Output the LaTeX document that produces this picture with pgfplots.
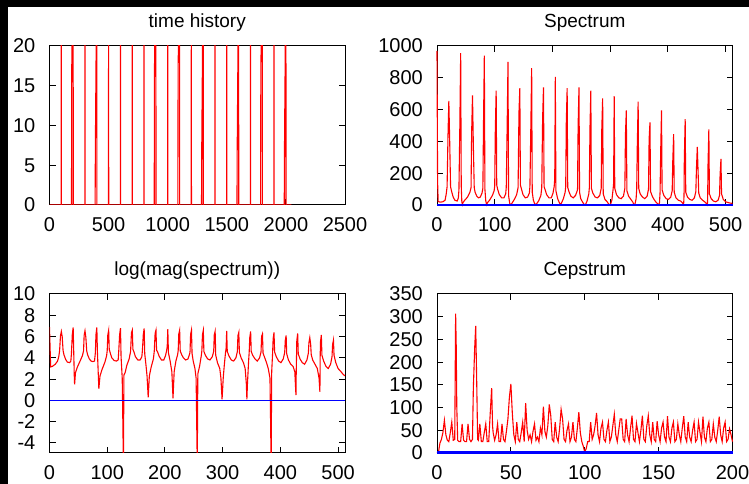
\documentclass[border=0pt]{standalone}
\usepackage{fontspec}
\setmainfont{Liberation Sans}
\usepackage{pgfplots}
\pgfplotsset{compat=1.18}
\pgfplotsset{
  gp/.style={
    scale only axis, width=295.5pt, height=159pt,
    axis line style={black, line width=1pt},
    every tick/.style={black, line width=1pt},
    major tick length=6pt,
    tick align=inside,
    title style={font=\fontsize{19}{22}\selectfont, at={(0.5,1)}, anchor=base, yshift=12pt},
    xticklabel style={font=\fontsize{20}{24}\selectfont, anchor=base, yshift=-27pt},
    yticklabel style={font=\fontsize{20}{24}\selectfont, anchor=east, inner sep=0pt, xshift=-14pt},
  },
  redl/.style={red, line width=1.1pt, mark=none},
}
\begin{document}
\begin{tikzpicture}
\useasboundingbox (0,0) rectangle (749pt,484pt);
\fill[black] (0,0) rectangle (749pt,484pt);
\fill[white] (8pt,0) rectangle (749pt,477pt);

% time history
\begin{axis}[gp, at={(49.5pt,279pt)}, anchor=south west,
  title={time history},
  xmin=0, xmax=2500, ymin=0, ymax=20,
  xtick={0,500,1000,1500,2000,2500}, xticklabels={0,500,1000,1500,2000,2500},
  ytick={0,5,10,15,20}, yticklabels={0,5,10,15,20}]
\addplot[redl] coordinates {
(0,0) (99,0) (100,30) (101,0) (186,0) (188,17) (200,30) (201,0)
(299,0) (300,30) (301,0) (386,0) (388,7) (400,30) (401,0)
(499,0) (500,30) (501,0) (599,0) (600,30) (601,0)
(699,0) (700,30) (701,0) (799,0) (800,30) (801,0)
(886,0) (888,17) (900,30) (901,0) (999,0) (1000,30) (1001,0)
(1086,0) (1088,17) (1100,30) (1101,0) (1199,0) (1200,30) (1201,0)
(1286,0) (1288,7) (1300,30) (1301,0) (1399,0) (1400,30) (1401,0)
(1499,0) (1500,30) (1501,0) (1586,0) (1588,7) (1600,30) (1601,0)
(1699,0) (1700,30) (1701,0) (1786,0) (1788,17) (1800,30) (1801,0)
(1899,0) (1900,30) (1901,0) (1986,0) (1988,7) (2000,30) (2001,0)
(2047,0)
};
\end{axis}

% spectrum
\begin{axis}[gp, at={(437pt,279pt)}, anchor=south west,
  title={Spectrum}, clip=false,
  xmin=0, xmax=512, ymin=0, ymax=1000,
  xtick={0,100,200,300,400,500}, xticklabels={0,100,200,300,400,500},
  ytick={0,200,400,600,800,1000}, yticklabels={0,200,400,600,800,1000}]
\addplot[redl] coordinates {
(0,970) (1,150) (2,22) (5,18) (10,20) (14,30) (16,70) (17.5,115) (19,430) (20.5,655) (22,400) (23.5,115) (25,90) (28,50)
(31,30) (35,25) (37,45) (38,95) (39.5,480) (41,955) (42,120) (43,20) (44,3) (45,15) (48,30) (53,50) (57,80) (59,110)
(60,450) (61.5,690) (63,370) (64.5,110) (66,80) (69,55) (72,45) (75,50) (78,75) (79.5,105) (80.5,490) (82,940) (83,100)
(84.5,25) (86,2) (87.5,15) (91,30) (96,60) (99,90) (100,120) (101,460) (102.5,720) (103.5,125) (105,100) (108,65)
(112,45) (116,45) (119,70) (120,110) (121.5,480) (123,900) (124,60) (126,10) (128,0) (130,12) (134,35) (138,65) (140.5,110)
(142,580) (143.5,735) (144.5,125) (146,105) (149,65) (153,45) (157,50) (160,75) (161,115) (162.5,475) (164,860) (165,80)
(167,30) (169,10) (171,1) (173,10) (176,25) (180,60) (181.5,110) (183,545) (184.5,740) (185.5,115) (187,100) (190,65)
(194,45) (198,45) (201,75) (203,115) (204,165) (205,805) (206,90) (209,40) (212,15) (214,1) (216,15) (219,40) (222,80)
(223,115) (224,515) (225.5,735) (226.5,110) (229,80) (232,55) (236,45) (240,60) (243,90) (243.5,105) (244.5,495) (246,740)
(247,80) (249,40) (252,20) (254,8) (256,0) (258,8) (260,25) (263,70) (264,110) (265,475) (266.5,720) (267.5,105) (270,75)
(274,50) (278,45) (282,60) (284.5,105) (285.5,475) (287,670) (288,70) (291,35) (295,20) (297,8) (299,1) (301,8) (303,30)
(305,95) (306,135) (307,685) (308,105) (311,65) (315,45) (319,40) (323,55) (325.5,105) (326.5,440) (328,595) (329,90) (332,55)
(336,35) (339,20) (341,5) (342,1) (343,5) (345,40) (346,100) (347,365) (348.5,650) (349.5,105) (352,70) (356,50) (360,40)
(364,55) (366.5,100) (367.5,410) (369,520) (370,85) (373,55) (376,35) (379,20) (382,8) (384,0) (385.5,15) (386.5,80) (387.5,325)
(389,595) (390,95) (393,60) (397,40) (401,35) (405,50) (407.5,90) (408.5,275) (410,445) (411,80) (414,45) (418,30) (422,25)
(425,15) (427,3) (427.5,15) (428,60) (428.5,280) (430,540) (431,80) (434,50) (438,35) (442,30) (446,45) (448.5,85) (449.5,225)
(451,365) (452.5,195) (453.5,75) (456,45) (460,30) (464,20) (467,8) (468.5,1) (469,60) (469.5,240) (471,475) (472,70) (475,40)
(479,25) (483,20) (487,30) (489.5,60) (490.5,190) (492,290) (493,70) (496,35) (500,20) (505,15) (508,12) (512,10)
};
\addplot[blue, line width=1.2pt, mark=none] coordinates {(0,0) (512,0)};
\end{axis}

% log magnitude
\begin{axis}[gp, at={(49.5pt,31pt)}, anchor=south west,
  title={log(mag(spectrum))},
  xmin=0, xmax=512, ymin=-4.94, ymax=10,
  xtick={0,100,200,300,400,500}, xticklabels={0,100,200,300,400,500},
  ytick={-4,-2,0,2,4,6,8,10}, yticklabels={-4,-2,0,2,4,6,8,10}]
\addplot[redl] coordinates {
(0,6.88) (1,5.0) (2,3.15) (5,3.2) (10,3.4) (14,3.7) (16,4.1) (17.5,4.65) (19,6.06) (20.5,6.48) (22,5.99) (23.5,4.7) (25,4.3)
(28,3.85) (31,3.6) (35,3.55) (37,3.7) (38,4.4) (39.5,6.17) (41,6.86) (42,4.5) (43,2.2) (43.5,1.5) (45,2.6) (48,3.1) (53,3.7)
(57,4.2) (59,4.65) (60,6.1) (61.5,6.54) (63,5.91) (64.5,4.65) (66,4.3) (69,3.9) (72,3.7) (75,3.65) (78,3.7) (79.5,4.5)
(80.5,6.19) (82,6.85) (83,4.6) (84.5,2.5) (85.5,1.1) (87.5,2.3) (91,2.9) (96,3.6) (99,4.2) (100,4.7) (101,6.13) (102.5,6.58)
(103.5,4.8) (105,4.5) (108,4.0) (112,3.75) (116,3.7) (119,3.8) (120,4.65) (121.5,6.17) (123,6.8) (124,4.1) (126,2.1) (127,-1.7)
(128,-6) (129,2.4) (131,2.6) (134,3.3) (138,3.9) (140.5,4.6) (142,6.36) (143.5,6.6) (144.5,4.8) (146,4.6) (149,4.1) (153,3.8)
(157,3.8) (160,4.1) (161,4.7) (162.5,6.16) (164,6.76) (165,4.4) (167,3.4) (169,2.3) (171,0.3) (173,2.3) (176,3.1) (180,3.9)
(181.5,4.6) (183,6.3) (184.5,6.61) (185.5,4.7) (187,4.6) (190,4.15) (194,3.8) (198,3.8) (201,4.2) (203,4.7) (204,5.1)
(205,6.69) (206,4.5) (209,3.7) (212,2.7) (214,0.2) (216,2.7) (219,3.7) (222,4.3) (223,4.7) (224,6.24) (225.5,6.6)
(226.5,4.65) (229,4.3) (232,4.0) (236,3.8) (240,3.9) (243,4.4) (243.5,4.6) (244.5,6.2) (246,6.61) (247,4.4) (249,3.7) (252,3.0)
(254,2.1) (255,-1.9) (256,-6) (257,2.5) (260,3.2) (263,4.2) (264,4.65) (265,6.16) (266.5,6.58) (267.5,4.6) (270,4.25)
(274,3.9) (278,3.8) (282,4.1) (284.5,4.6) (285.5,6.16) (287,6.5) (288,4.25) (291,3.55) (295,3.0) (297,2.1) (299,0.1) (301,2.1)
(303,3.4) (305,4.5) (306,4.9) (307,6.53) (308,4.6) (311,4.17) (315,3.8) (319,3.7) (323,4.0) (325.5,4.6) (326.5,6.09) (328,6.39)
(329,4.5) (332,4.0) (336,3.55) (339,3.0) (341,1.6) (342,0.1) (343,1.6) (345,3.7) (346,4.55) (347,5.9) (348.5,6.48)
(349.5,4.6) (352,4.25) (356,3.9) (360,3.7) (364,4.0) (366.5,4.55) (367.5,6.02) (369,6.25) (370,4.44) (373,4.0) (376,3.55)
(379,3.0) (382,2.1) (383,-1.7) (384,-6) (385,2.7) (386.5,4.38) (387.5,5.78) (389,6.39) (390,4.55) (393,4.1) (397,3.7)
(401,3.55) (405,3.9) (407.5,4.5) (408.5,5.62) (410,6.1) (411,4.38) (414,3.8) (418,3.4) (422,3.2) (425,2.7) (427,0.5) (427.5,2.7)
(428,4.1) (428.5,5.63) (430,6.29) (431,4.38) (434,3.9) (438,3.55) (442,3.4) (446,3.8) (448.5,4.44) (449.5,5.42) (451,5.9)
(452.5,5.27) (453.5,4.3) (456,3.8) (460,3.4) (464,3.0) (467,2.1) (468.5,0.8) (469,4.1) (469.5,5.48) (471,6.16) (472,4.25) (475,3.7)
(479,3.2) (483,3.0) (487,3.4) (489.5,4.1) (490.5,5.25) (492,5.67) (493,4.25) (496,3.55) (500,3.0) (505,2.7) (508,2.5) (512,2.3)
};
\addplot[blue, line width=1.5pt, mark=none] coordinates {(0,0) (512,0)};
\end{axis}

% cepstrum
\begin{axis}[gp, at={(437pt,31pt)}, anchor=south west,
  title={Cepstrum}, clip=false,
  xmin=0, xmax=200, ymin=0, ymax=350,
  xtick={0,50,100,150,200}, xticklabels={0,50,100,150,200},
  ytick={0,50,100,150,200,250,300,350}, yticklabels={0,50,100,150,200,250,300,350}]
\addplot[redl] coordinates {
(0,0) (1,2) (2,22) (3,30) (4,45) (5,72) (6,40) (7,28) (8,25) (9,45) (10,68) (11,28) (12,30) (12.3,165) (12.6,307) (13,237)
(13.4,100) (14,28) (15,25) (16,25) (17,64) (18,28) (19,25) (20,25) (21,64) (22,30) (23,25) (24,30) (24.6,143) (25.5,231)
(26.2,280) (26.9,152) (27.5,30) (28,28) (29,64) (30,25) (31,25) (32,45) (33,64) (34,25) (35,25) (36,86) (37,143) (37.6,60)
(38,45) (39,28) (40,40) (41,64) (42,25) (43,25) (44,64) (45,30) (46,25) (47,48) (48,75) (49,123) (50,152) (51,86) (52,40)
(53,25) (54,68) (55,30) (56,25) (57,45) (58,68) (59,25) (60,110) (61,50) (62,30) (63,40) (64,25) (65,48) (66,64) (67,28)
(68,35) (69,25) (70,55) (71,40) (72,102) (73,48) (74,35) (75,60) (76,107) (77,82) (78,30) (79,25) (80,68) (81,35) (82,25)
(83,55) (84,96) (85,75) (86,30) (87,25) (88,50) (89,64) (90,25) (91,35) (92,68) (93,30) (94,25) (95,55) (96,90) (97,45)
(98,25) (99,15) (100,2) (101,10) (102,25) (103,25) (104,68) (105,30) (106,40) (107,60) (108,88) (109,40) (110,25) (111,55)
(112,68) (113,30) (114,25) (115,50) (116,68) (117,25) (118,35) (119,60) (120,85) (121,40) (122,25) (123,50) (124,75)
(125,75) (126,30) (127,25) (128,75) (129,40) (130,25) (131,55) (132,82) (133,30) (134,25) (135,65) (136,45) (137,25)
(138,50) (139,82) (140,30) (141,25) (142,60) (143,82) (144,40) (145,25) (146,68) (147,30) (148,25) (149,70) (150,40)
(151,25) (152,55) (153,68) (154,35) (155,25) (156,81) (157,35) (158,25) (159,55) (160,68) (161,25) (162,30) (163,64)
(164,40) (165,25) (166,55) (167,81) (168,35) (169,25) (170,68) (171,35) (172,25) (173,50) (174,68) (175,25) (176,30)
(177,68) (178,45) (179,25) (180,80) (181,35) (182,25) (183,55) (184,68) (185,25) (186,30) (187,64) (188,35) (189,25)
(190,50) (191,80) (192,40) (193,25) (194,55) (195,68) (196,25) (197,30) (198,53) (199,40) (200,25)
};
\addplot[blue, line width=3pt, mark=none] coordinates {(0,0) (200,0)};
\end{axis}
\end{tikzpicture}
\end{document}
